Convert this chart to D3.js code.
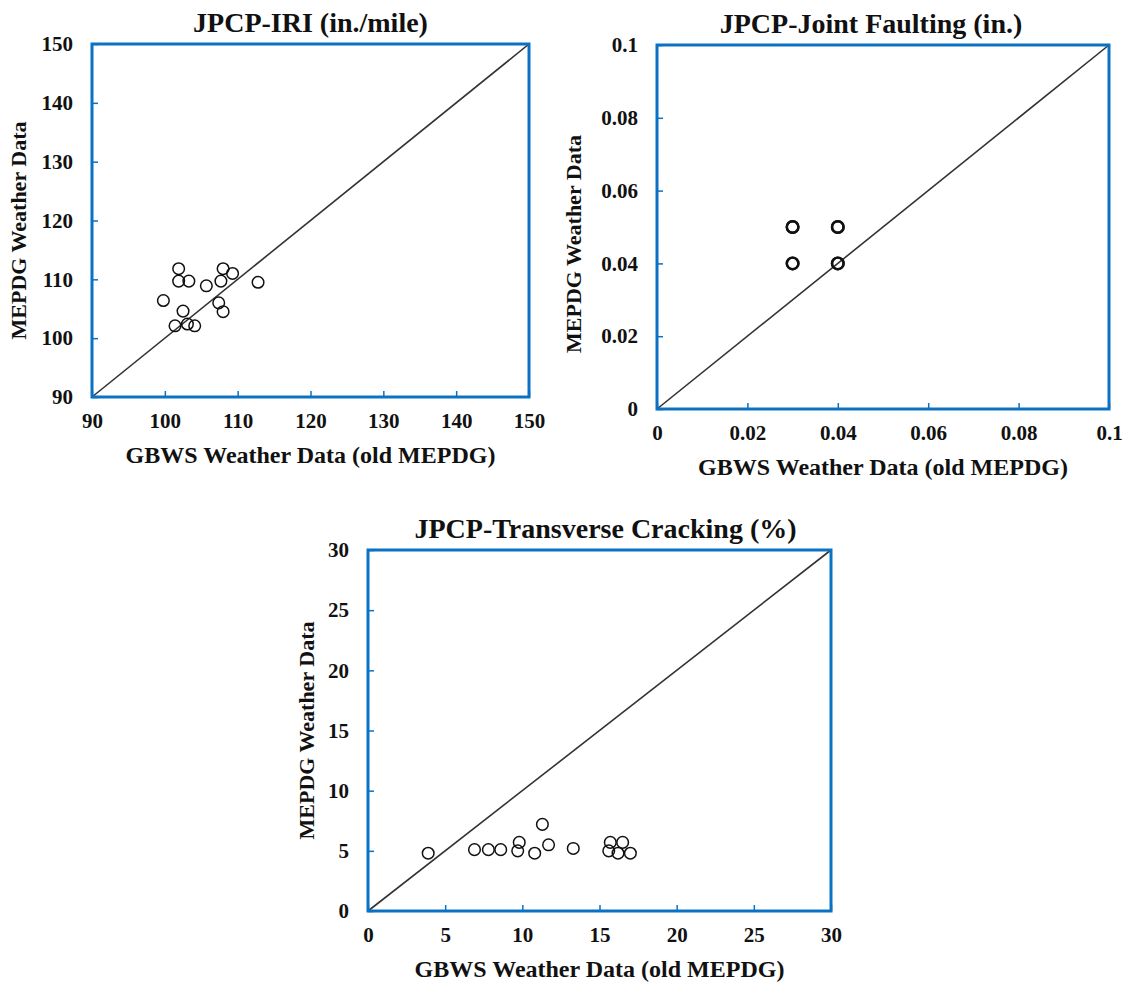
<!DOCTYPE html>
<html>
<head>
<meta charset="utf-8">
<script src="https://cdn.jsdelivr.net/npm/d3@7"></script>
<style>
  body { margin: 0; background: #fff; }
  svg text { font-family: "Liberation Serif", "Times New Roman", serif; font-weight: bold; fill: #111; }
</style>
</head>
<body>
<svg id="fig" width="1128" height="987"></svg>
<script>
// data
const iriGbws  = [101.9, 101.9, 103.3, 108.0, 109.3, 107.7, 105.7, 112.8, 99.8, 107.4, 108.0, 102.5, 101.4, 103.1, 104.1];
const iriMepdg = [111.8, 109.7, 109.7, 111.8, 111.0, 109.7, 108.9, 109.5, 106.4, 106.0, 104.5, 104.6, 102.1, 102.4, 102.1];

const faultGbws  = [0.03, 0.04, 0.03, 0.04, 0.03, 0.04, 0.03, 0.04];
const faultMepdg = [0.05, 0.05, 0.04, 0.04, 0.05, 0.05, 0.04, 0.04];

const crackGbws  = [3.9, 6.9, 7.8, 8.6, 9.8, 9.7, 10.8, 11.7, 11.3, 13.3, 15.7, 16.5, 15.6, 16.2, 17.0];
const crackMepdg = [4.8, 5.1, 5.1, 5.1, 5.7, 5.0, 4.8, 5.5, 7.2, 5.2, 5.7, 5.7, 5.0, 4.8, 4.8];

const iriTicks   = [90, 100, 110, 120, 130, 140, 150];
const faultTicks = [0, 0.02, 0.04, 0.06, 0.08, 0.1];
const crackTicks = [0, 5, 10, 15, 20, 25, 30];

const blue = '#0a72c4';
const svg = d3.select('#fig');

function scatterPanel(cfg) {
  const g = svg.append('g');
  const x = d3.scaleLinear().domain(cfg.domain).range([cfg.left, cfg.right]);
  const y = d3.scaleLinear().domain(cfg.domain).range([cfg.bottom, cfg.top]);

  // 1:1 line
  g.append('line')
    .attr('x1', x(cfg.domain[0])).attr('y1', y(cfg.domain[0]))
    .attr('x2', x(cfg.domain[1])).attr('y2', y(cfg.domain[1]))
    .attr('stroke', '#333').attr('stroke-width', 1.6);

  // points
  g.selectAll('circle')
    .data(cfg.xs.map((d, i) => [d, cfg.ys[i]]))
    .join('circle')
      .attr('cx', d => x(d[0]))
      .attr('cy', d => y(d[1]))
      .attr('r', 5.8)
      .attr('fill', 'none')
      .attr('stroke', '#111')
      .attr('stroke-width', cfg.pw || 1.5);

  // inward ticks
  const xAx = g.append('g')
    .attr('transform', `translate(0,${cfg.bottom})`)
    .call(d3.axisTop(x).tickValues(cfg.ticks).tickSize(6).tickFormat(d3.format('~g')));
  const yAx = g.append('g')
    .attr('transform', `translate(${cfg.left},0)`)
    .call(d3.axisRight(y).tickValues(cfg.ticks).tickSize(6).tickFormat(d3.format('~g')));
  [xAx, yAx].forEach(a => {
    a.select('.domain').remove();
    a.selectAll('.tick line').attr('stroke', blue).attr('stroke-width', 1.5);
    a.selectAll('.tick text').attr('font-size', 21).attr('fill', '#111')
      .attr('font-family', '"Liberation Serif", serif');
  });
  xAx.selectAll('.tick text').attr('dy', '0.71em').attr('y', 16);
  yAx.selectAll('.tick text').attr('text-anchor', 'end').attr('x', -19);

  // frame
  g.append('rect')
    .attr('x', cfg.left).attr('y', cfg.top)
    .attr('width', cfg.right - cfg.left).attr('height', cfg.bottom - cfg.top)
    .attr('fill', 'none').attr('stroke', blue).attr('stroke-width', 3);

  g.append('text')
    .attr('x', (cfg.left + cfg.right) / 2 + (cfg.tdx || 0)).attr('y', cfg.top - 12)
    .attr('text-anchor', 'middle').attr('font-size', 28)
    .text(cfg.title);
  g.append('text')
    .attr('x', (cfg.left + cfg.right) / 2).attr('y', cfg.bottom + 66)
    .attr('text-anchor', 'middle').attr('font-size', 24)
    .text('GBWS Weather Data (old MEPDG)');
  g.append('text')
    .attr('transform', `translate(${cfg.left - cfg.ytitleOff},${(cfg.top + cfg.bottom) / 2 + (cfg.ydy || 0)}) rotate(-90)`)
    .attr('text-anchor', 'middle').attr('font-size', 22)
    .text('MEPDG Weather Data');
}

scatterPanel({ title: 'JPCP-IRI (in./mile)', domain: [90, 150], ticks: iriTicks, ydy: 10,
  xs: iriGbws, ys: iriMepdg, left: 92, right: 529, top: 44, bottom: 397, ytitleOff: 66 });
scatterPanel({ title: 'JPCP-Joint Faulting (in.)', domain: [0, 0.1], ticks: faultTicks, pw: 2.4, ydy: 17, tdx: -12,
  xs: faultGbws, ys: faultMepdg, left: 657, right: 1109, top: 45, bottom: 409, ytitleOff: 76 });
scatterPanel({ title: 'JPCP-Transverse Cracking (%)', domain: [0, 30], ticks: crackTicks, tdx: 6,
  xs: crackGbws, ys: crackMepdg, left: 368, right: 831, top: 550, bottom: 911, ytitleOff: 54 });
</script>
</body>
</html>
